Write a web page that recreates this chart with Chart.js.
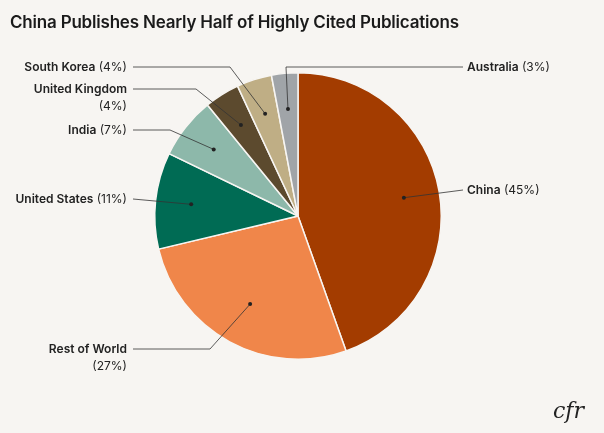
<!DOCTYPE html>
<html><head><meta charset="utf-8">
<script src="https://cdn.jsdelivr.net/npm/chart.js@4"></script>
<style>
html,body{margin:0;padding:0;background:#F7F5F2;}
#wrap{position:relative;width:604px;height:433px;}
#title{position:absolute;left:10px;top:12px;font:600 17px Inter,sans-serif;color:#1a1a1a;letter-spacing:-0.2px;}
#logo{position:absolute;right:20px;bottom:10px;font:italic 22px "DejaVu Serif",serif;color:#222;}
canvas{position:absolute;left:0;top:0;}
</style></head><body>
<div id="wrap">
<canvas id="c" width="604" height="433"></canvas>
<div id="title">China Publishes Nearly Half of Highly Cited Publications</div>
<div id="logo">cfr</div>
</div>
<script>
const categories=["China","Rest of World","United States","India","United Kingdom","South Korea","Australia"];
const values=[45,27,11,7,4,4,3];
const colors=["#A33C00","#F0864A","#006B54","#8DB8AA","#5C4A2E","#BFAE85","#A0A4A8"];
// label layout: [textX, textY, align, lines(name parts), elbow point, dot radius fraction]
const layout=[
 {x:467,y:190,align:"left",lines:[["China"," (45%)"]],end:[463,190],mid:null,f:0.75},
 {x:127,y:349,align:"right",lines:[["Rest of World",""],["","(27%)"]],end:[133,349],mid:[210,349],f:0.7},
 {x:127,y:199,align:"right",lines:[["United States"," (11%)"]],end:[133,199],mid:null,f:0.75},
 {x:127,y:130,align:"right",lines:[["India"," (7%)"]],end:[133,130],mid:[170,130],f:0.75},
 {x:127,y:89,align:"right",lines:[["United Kingdom",""],["","(4%)"]],end:[133,89],mid:[196,89],f:0.75},
 {x:127,y:67,align:"right",lines:[["South Korea"," (4%)"]],end:[133,67],mid:[230,67],f:0.75},
 {x:467,y:67,align:"left",lines:[["Australia"," (3%)"]],end:[463,67],mid:[286,67],f:0.75}
];
const labelPlugin={id:"lbl",afterDatasetsDraw(chart){
 const ctx=chart.ctx;const meta=chart.getDatasetMeta(0);
 ctx.save();
 meta.data.forEach((arc,i)=>{
  const L=layout[i];
  const a=(arc.startAngle+arc.endAngle)/2;const r=arc.outerRadius*L.f;
  const dx=arc.x+Math.cos(a)*r,dy=arc.y+Math.sin(a)*r;
  ctx.strokeStyle="#333";ctx.lineWidth=0.8;ctx.beginPath();ctx.moveTo(dx,dy);
  if(L.mid)ctx.lineTo(L.mid[0],L.mid[1]);
  ctx.lineTo(L.end[0],L.end[1]);ctx.stroke();
  ctx.fillStyle="#222";ctx.beginPath();ctx.arc(dx,dy,2,0,Math.PI*2);ctx.fill();
  ctx.textBaseline="middle";
  L.lines.forEach((ln,j)=>{
   const y=L.y+j*17;
   ctx.font="600 12px Inter, sans-serif";const w1=ctx.measureText(ln[0]).width;
   ctx.font="400 12px Inter, sans-serif";const w2=ctx.measureText(ln[1]).width;
   let x=L.align==="left"?L.x:L.x-w1-w2;
   ctx.textAlign="left";
   ctx.font="600 12px Inter, sans-serif";ctx.fillText(ln[0],x,y);
   ctx.font="400 12px Inter, sans-serif";ctx.fillText(ln[1],x+w1,y);
  });
 });
 ctx.restore();
}};
new Chart(document.getElementById("c"),{
 type:"pie",
 data:{labels:categories,datasets:[{data:values,backgroundColor:colors,borderColor:"#F7F5F2",borderWidth:1.5}]},
 options:{responsive:false,animation:false,
  layout:{padding:{top:72,bottom:73,left:154,right:162}},
  plugins:{legend:{display:false},tooltip:{enabled:false}}},
 plugins:[labelPlugin]
});
</script>
</body></html>
